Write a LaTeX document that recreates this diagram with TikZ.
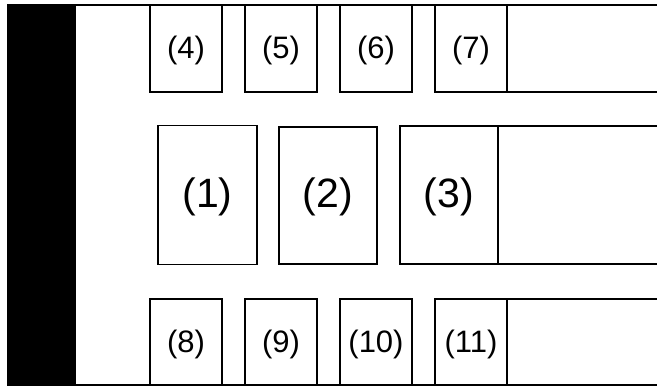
\documentclass[tikz,border=0pt]{standalone}
\usepackage{fontspec}
\setmainfont{Liberation Sans}
\begin{document}
\begin{tikzpicture}[x=1pt,y=-1pt,
  box/.style={draw=black,line width=1.4pt,inner sep=0pt,outer sep=0pt,fill=white},
  small/.style={box,minimum width=72pt,minimum height=87pt,font=\fontsize{31}{33}\selectfont,text height=26.6pt,text depth=6.6pt},
  big/.style={box,minimum width=99pt,minimum height=139pt,font=\fontsize{41}{44}\selectfont,text height=32.9pt,text depth=8.7pt},
  rule/.style={draw=black,line width=1.4pt}]
\useasboundingbox (0,0) rectangle (657,386);
% black bar
\fill[black] (7,4.3) rectangle (76,386);
\coordinate (tl) at (76,5);
\coordinate (tr) at (657,5);
\coordinate (bl) at (76,385);
\coordinate (br) at (657,385);
\draw[rule] (tl) -- (tr);
\draw[rule] (bl) -- (br);
% top row
\node[small] (b4) at (186,48.5) {(4)};
\node[small] (b5) at (281,48.5) {(5)};
\node[small] (b6) at (376,48.5) {(6)};
\node[small] (b7) at (471,48.5) {(7)};
% middle row
\node[big] (b1) at (207.5,195) {(1)};
\node[big, minimum width=98pt, minimum height=137pt] (b2) at (328,195.5) {(2)};
\node[big, minimum width=98pt, minimum height=138pt] (b3) at (449,195) {(3)};
% bottom row
\node[small, minimum height=86pt] (b8) at (186,342) {(8)};
\node[small, minimum height=86pt] (b9) at (281,342) {(9)};
\node[small, minimum height=86pt] (b10) at (376,342) {(10)};
\node[small, minimum height=86pt] (b11) at (471,342) {(11)};
% right-hand regions
\coordinate (r1) at (657,92);
\coordinate (r2) at (657,126);
\coordinate (r3) at (657,264);
\coordinate (r4) at (657,299);
\draw[rule] (b7.south east) -- (r1);
\draw[rule] (b3.north east) -- (r2);
\draw[rule] (b3.south east) -- (r3);
\draw[rule] (b11.north east) -- (r4);
\end{tikzpicture}
\end{document}
